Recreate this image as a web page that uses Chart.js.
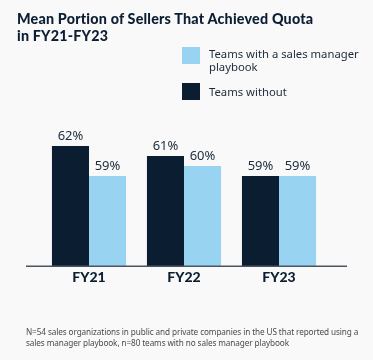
<!DOCTYPE html>
<html>
<head>
<meta charset="utf-8">
<script src="https://cdn.jsdelivr.net/npm/chart.js@4"></script>
<style>
  html, body { margin: 0; padding: 0; background: #f9f9f9; }
  #wrap { position: relative; width: 373px; height: 360px; overflow: hidden; }
  #chart { position: absolute; left: 0; top: 0; }
  .title {
    position: absolute; left: 17px; top: 10px;
    font: 900 14.3px "Lato", sans-serif; line-height: 17px;
    color: #0c1e33; letter-spacing: 0.2px;
  }
  .legend { position: absolute; left: 182px; font: 11.3px "Noto Sans", sans-serif; color: #1c2b3b; line-height: 13px; }
  .legend .box { position: absolute; left: 0; top: 0; width: 18px; height: 17px; }
  .legend .txt { position: absolute; left: 27px; top: 0; white-space: nowrap; }
  .note {
    position: absolute; left: 26px; top: 327px; white-space: nowrap;
    font: 8.2px "Noto Sans", sans-serif; line-height: 10.5px; color: #4a4a4a;
    letter-spacing: -0.1px;
  }
</style>
</head>
<body>
<div id="wrap">
  <canvas id="chart" width="373" height="360"></canvas>
  <div class="title">Mean Portion of Sellers That Achieved Quota<br>in FY21-FY23</div>
  <div class="legend" style="top:47px">
    <div class="box" style="background:#98d4f2"></div>
    <div class="txt" style="top:0px">Teams with a sales manager<br>playbook</div>
  </div>
  <div class="legend" style="top:83px">
    <div class="box" style="background:#0b1d31"></div>
    <div class="txt" style="top:2px">Teams without</div>
  </div>
  <div class="note">N=54 sales organizations in public and private companies in the US that reported using a<br>sales manager playbook, n=80 teams with no sales manager playbook</div>
</div>
<script>
// data
const categories = ["FY21", "FY22", "FY23"];
const teamsWithout = [62, 61, 59];
const teamsWithPlaybook = [59, 60, 59];

const darkNavy = "#0b1d31";
const lightBlue = "#98d4f2";

// baseline + value labels
const extras = {
    id: "extras",
    afterDatasetsDraw(chart) {
        const c = chart.ctx;
        const y0 = chart.scales.y.getPixelForValue(50);
        c.save();
        c.strokeStyle = "#4a5562";
        c.lineWidth = 1.5;
        c.beginPath();
        c.moveTo(26, y0);
        c.lineTo(347, y0);
        c.stroke();

        c.fillStyle = "#1c2b3b";
        c.font = '13px "Noto Sans", sans-serif';
        c.textAlign = "center";
        c.textBaseline = "bottom";
        chart.data.datasets.forEach((ds, i) => {
            chart.getDatasetMeta(i).data.forEach((bar, j) => {
                c.fillText(ds.data[j] + "%", bar.x, bar.y - 3);
            });
        });
        c.restore();
    },
};

new Chart(document.getElementById("chart").getContext("2d"), {
    type: "bar",
    data: {
        labels: categories,
        datasets: [
            {
                label: "Teams without",
                data: teamsWithout,
                backgroundColor: darkNavy,
                categoryPercentage: 0.78,
                barPercentage: 1.0,
            },
            {
                label: "Teams with a sales manager playbook",
                data: teamsWithPlaybook,
                backgroundColor: lightBlue,
                categoryPercentage: 0.78,
                barPercentage: 1.0,
            },
        ],
    },
    options: {
        responsive: false,
        animation: false,
        layout: { padding: { left: 41.5, right: 46.5, top: 116, bottom: 71 } },
        plugins: { legend: { display: false }, tooltip: { enabled: false } },
        scales: {
            y: { display: false, min: 50, max: 65 },
            x: {
                grid: { display: false, drawTicks: false },
                border: { display: false },
                ticks: {
                    padding: 3,
                    color: "#0c1e33",
                    font: { family: "Lato", size: 14, weight: "900" },
                },
            },
        },
    },
    plugins: [extras],
});
</script>
</body>
</html>
